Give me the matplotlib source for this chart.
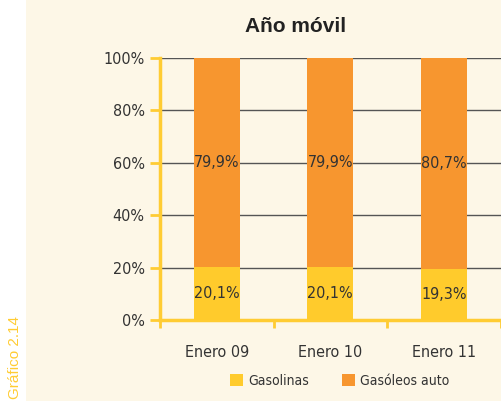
import numpy as np
import matplotlib.pyplot as plt
from matplotlib.patches import Rectangle

# Datos del gráfico
periodos = ["Enero 09", "Enero 10", "Enero 11"]
gasolinas = [20.1, 20.1, 19.3]
gasoleos = [79.9, 79.9, 80.7]
series = ["Gasolinas", "Gasóleos auto"]

col_gasolina = "#FFCB2C"
col_gasoleo = "#F7962F"
col_eje = "#FFCC33"
col_fondo = "#FDF7E7"
col_texto = "#333333"

cond = dict(family="DejaVu Sans", stretch="condensed")

fig = plt.figure(figsize=(5.02, 4.01), dpi=100)
fig.patch.set_facecolor("white")
fig.patches.append(Rectangle((26 / 502, 0), 1, 1, transform=fig.transFigure,
                             facecolor=col_fondo, edgecolor="none", zorder=-10))

ax = fig.add_axes([160 / 502, 81 / 401, 340.5 / 502, 262 / 401])
ax.set_facecolor("none")

x = np.arange(len(periodos))
ancho = 0.405
b1 = ax.bar(x, gasolinas, ancho, color=col_gasolina, label=series[0], zorder=3)
b2 = ax.bar(x, gasoleos, ancho, bottom=gasolinas, color=col_gasoleo, label=series[1], zorder=3)

for i in range(len(periodos)):
    ax.text(x[i], gasolinas[i] / 2, f"{gasolinas[i]:.1f}%".replace(".", ","),
            ha="center", va="center", fontsize=11.5, color=col_texto, zorder=4, **cond)
    ax.text(x[i], gasolinas[i] + gasoleos[i] / 2, f"{gasoleos[i]:.1f}%".replace(".", ","),
            ha="center", va="center", fontsize=11.5, color=col_texto, zorder=4, **cond)

ax.set_xlim(-0.5, 2.5)
ax.set_ylim(0, 100)
ax.set_yticks(np.arange(0, 101, 20))
ax.set_yticklabels([f"{v}%" for v in range(0, 101, 20)], fontsize=11.5, color=col_texto, **cond)
ax.yaxis.grid(True, color="#555555", linewidth=1, zorder=0)
ax.set_axisbelow(True)

ax.set_xticks(x)
ax.set_xticklabels(periodos, fontsize=11.5, color=col_texto, **cond)
ax.set_xticks([-0.5, 0.5, 1.5, 2.5], minor=True)
ax.tick_params(axis="x", which="major", length=0, pad=18)
ax.tick_params(axis="x", which="minor", length=6, width=2, color=col_eje, direction="out")
ax.tick_params(axis="y", length=7, width=2, color=col_eje, direction="out", pad=4)

for s in ["top", "right"]:
    ax.spines[s].set_visible(False)
for s in ["left", "bottom"]:
    ax.spines[s].set_color(col_eje)
    ax.spines[s].set_linewidth(2.5)

fig.text(296 / 502, 1 - 27 / 401, "Año móvil", ha="center", va="center",
         fontsize=15, fontweight="bold", family="Liberation Sans", color="#222222")

leg = fig.legend(handles=[b1, b2], labels=series, loc="center",
                 bbox_to_anchor=(340 / 502, 1 - 381 / 401), ncol=2, frameon=False,
                 handlelength=0.9, handleheight=0.9, handletextpad=0.4, columnspacing=2.4,
                 prop=dict(size=10, **cond))
for t in leg.get_texts():
    t.set_color(col_texto)

fig.text(15 / 502, 0.004, "Gráfico 2.14", rotation=90, ha="center", va="bottom",
         fontsize=11, family="Liberation Sans", color=col_eje)

fig.savefig("out.png", dpi=100, facecolor=fig.get_facecolor())
